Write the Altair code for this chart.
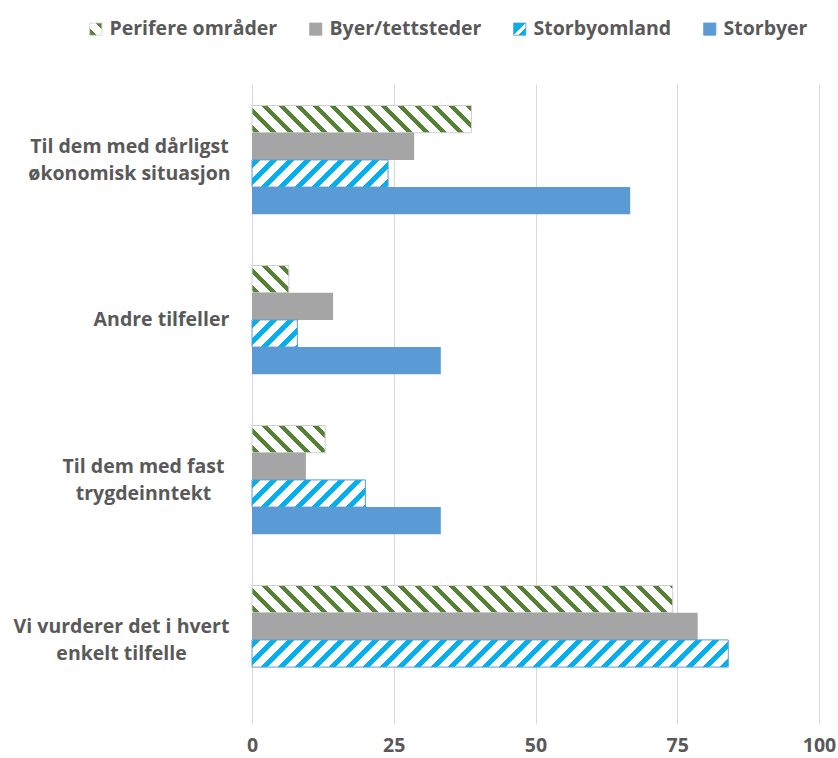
import math
import altair as alt
import pandas as pd

# Chart data
categories = [
    "Til dem med dårligst økonomisk situasjon",
    "Andre tilfeller",
    "Til dem med fast trygdeinntekt",
    "Vi vurderer det i hvert enkelt tilfelle",
]
label_lines = {
    "Til dem med dårligst økonomisk situasjon": ["Til dem med dårligst", "økonomisk situasjon"],
    "Andre tilfeller": ["Andre tilfeller"],
    "Til dem med fast trygdeinntekt": ["Til dem med fast", "trygdeinntekt"],
    "Vi vurderer det i hvert enkelt tilfelle": ["Vi vurderer det i hvert", "enkelt tilfelle"],
}
series = ["Perifere områder", "Byer/tettsteder", "Storbyomland", "Storbyer"]
perifere = [38.7, 6.5, 12.9, 74.2]
byer = [28.6, 14.3, 9.5, 78.6]
storbyomland = [24.0, 8.0, 20.0, 84.0]
storbyer = [66.7, 33.3, 33.3, 0.0]
x_ticks = [0, 25, 50, 75, 100]

rows = []
for name, vals in zip(series, [perifere, byer, storbyomland, storbyer]):
    for cat, v in zip(categories, vals):
        rows.append({"category": cat, "series": name, "value": v})
df = pd.DataFrame(rows)

# Layout
PLOT_W, PLOT_H = 567, 640
LEFT, TOP = 252, 84
STEP = PLOT_H / 4
PAD_INNER = 0.32
BAR_H = STEP * (1 - PAD_INNER) / 4
PX_PER_UNIT = PLOT_W / 100
LINE_H = 27

GREEN = "#548235"
CYAN = "#00b0f0"
GRAY = "#a5a5a5"
BLUE = "#5b9bd5"
TEXT = "#595959"
FONT = "Open Sans"
FONT_SIZE = 19.5

PERIOD = 17.0   # hatch spacing (px, measured along x)
STRIPE = 6.5    # hatch line thickness (px, along x)

# Category labels: lines are centred on each other, each block ends near the
# same right edge, so every label gets its own gap to the plot
label_gap = {
    "Til dem med dårligst økonomisk situasjon": 123,
    "Andre tilfeller": 91,
    "Til dem med fast trygdeinntekt": 109,
    "Vi vurderer det i hvert enkelt tilfelle": 131,
}


def hatch(value, color, direction):
    """Diagonal hatch as a linear gradient sized to a bar's own box."""
    w = value * PX_PER_UNIT
    h = BAR_H
    span = w + h
    k = span / (w * w + h * h)
    stops = [{"offset": 0, "color": "white"}]
    s = 2.0
    while s < span:
        t0 = min(s / span, 1.0)
        t1 = min((s + STRIPE) / span, 1.0)
        stops += [
            {"offset": round(t0, 5), "color": "white"},
            {"offset": round(t0, 5), "color": color},
            {"offset": round(t1, 5), "color": color},
            {"offset": round(t1, 5), "color": "white"},
        ]
        s += PERIOD
    stops.append({"offset": 1, "color": "white"})
    if direction == "down":
        geo = {"x1": 0, "y1": 1, "x2": round(w * k, 5), "y2": round(1 - h * k, 5)}
    else:
        geo = {"x1": 0, "y1": 0, "x2": round(w * k, 5), "y2": round(h * k, 5)}
    return {"gradient": "linear", "stops": stops, **geo}


def test_for(s, c):
    return f"datum.series === '{s}' && datum.category === '{c}'"


conditions = []
for cat, v in zip(categories, perifere):
    conditions.append({"test": test_for(series[0], cat), "value": hatch(v, GREEN, "down")})
for cat, v in zip(categories, storbyomland):
    conditions.append({"test": test_for(series[2], cat), "value": hatch(v, CYAN, "up")})

# Legend swatches for the hatched series
swatch_green = (
    "{gradient: 'linear', x1: 0, y1: 1, x2: 1, y2: 0, stops: ["
    f"{{offset: 0, color: '{GREEN}'}}, {{offset: 0.28, color: '{GREEN}'}}, "
    "{offset: 0.28, color: 'white'}, {offset: 0.72, color: 'white'}, "
    f"{{offset: 0.72, color: '{GREEN}'}}, {{offset: 1, color: '{GREEN}'}}]}}"
)
swatch_cyan = (
    "{gradient: 'linear', x1: 0, y1: 0, x2: 1, y2: 1, stops: ["
    f"{{offset: 0, color: '{CYAN}'}}, {{offset: 0.5, color: '{CYAN}'}}, "
    "{offset: 0.5, color: 'white'}, {offset: 0.68, color: 'white'}, "
    f"{{offset: 0.68, color: '{CYAN}'}}, {{offset: 1, color: '{CYAN}'}}]}}"
)

label_expr = " : ".join(
    f"datum.value === '{c}' ? {label_lines[c]!r}" for c in categories
) + " : datum.value"
label_expr = label_expr.replace('"', "'")

# Two-line labels are lifted so that the pair sits centred on the band
single_line = [c for c in categories if len(label_lines[c]) == 1]
single_test = " || ".join(f"datum.value === '{c}'" for c in single_line)

fill_def = {
    "field": "series",
    "type": "nominal",
    "scale": {
        "domain": series,
        "range": [{"expr": swatch_green}, GRAY, {"expr": swatch_cyan}, BLUE],
    },
    "legend": {
        "title": None,
        "orient": "none",
        "legendX": 86 - LEFT,
        "legendY": 19 - TOP,
        "direction": "horizontal",
        "columns": 4,
        "columnPadding": 28,
        "symbolType": "square",
        "symbolSize": 150,
        "symbolStrokeWidth": 0.8,
        "labelOffset": 4,
        "labelFont": FONT,
        "labelFontSize": FONT_SIZE,
        "labelFontWeight": "bold",
        "labelColor": TEXT,
        "labelLimit": 400,
    },
    "condition": conditions,
}

y_axis = alt.Axis(
    title=None,
    domain=False,
    ticks=False,
    labelExpr=label_expr,
    labelFont=FONT,
    labelFontSize=FONT_SIZE,
    labelFontWeight="bold",
    labelColor=TEXT,
    labelPadding={
        "condition": [
            {"test": f"datum.value === '{c}'", "value": label_gap[c]} for c in categories[:-1]
        ],
        "value": label_gap[categories[-1]],
    },
    labelLimit=400,
    labelLineHeight=LINE_H,
    labelAlign="center",
    labelOffset={"condition": {"test": single_test, "value": 0}, "value": -LINE_H / 2 + 0.5},
)

bars = alt.Chart(df).mark_bar(strokeWidth=1).encode(
    x=alt.X(
        "value:Q",
        scale=alt.Scale(domain=[0, 100], nice=False),
        axis=alt.Axis(
            values=x_ticks,
            title=None,
            domain=False,
            ticks=False,
            grid=True,
            gridColor="#d9d9d9",
            gridWidth=1,
            labelFlush=False,
            labelFont=FONT,
            labelFontSize=FONT_SIZE,
            labelFontWeight="bold",
            labelColor=TEXT,
            labelPadding=12,
        ),
    ),
    y=alt.Y(
        "category:N",
        sort=categories,
        scale=alt.Scale(paddingInner=PAD_INNER, paddingOuter=PAD_INNER / 2, align=0.42),
        axis=y_axis,
    ),
    yOffset=alt.YOffset(
        "series:N", sort=series, scale=alt.Scale(paddingInner=0, paddingOuter=0)
    ),
    fill=fill_def,
    stroke=alt.Stroke(
        "series:N",
        scale=alt.Scale(domain=series, range=["#d0d0d0", GRAY, BLUE, BLUE]),
        legend=None,
    ),
    strokeOpacity=alt.condition(
        "datum.series === 'Perifere områder' || datum.series === 'Storbyomland'",
        alt.value(1),
        alt.value(0),
    ),
)

chart = bars.properties(
    width=PLOT_W,
    height=PLOT_H,
    autosize=alt.AutoSizeParams(type="none"),
    padding={"left": LEFT, "top": TOP, "right": 838 - LEFT - PLOT_W, "bottom": 758 - TOP - PLOT_H},
    background="white",
).configure_view(stroke=None)

chart.save("out.html", embed_options={"renderer": "svg", "actions": False})
